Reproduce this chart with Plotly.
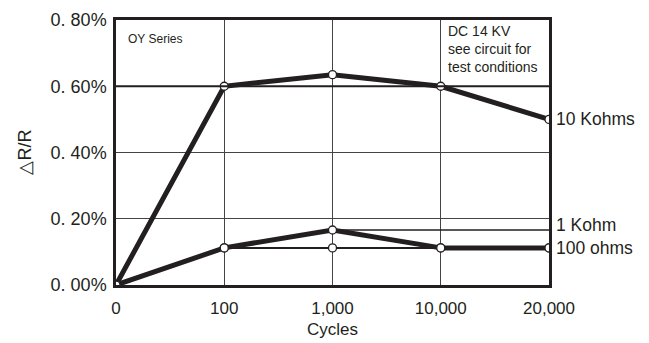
import plotly.graph_objects as go

cycles = ["0", "100", "1,000", "10,000", "20,000"]
r_10k = [0.0, 0.60, 0.635, 0.60, 0.50]
r_1k = [0.0, 0.112, 0.166, 0.112, 0.112]
r_100 = [0.0, 0.112, 0.112, 0.112, 0.112]
ytick_vals = [0.0, 0.2, 0.4, 0.6, 0.8]
ytick_text = ["0. 00%", "0. 20%", "0. 40%", "0. 60%", "0. 80%"]
series_labels = ["10 Kohms", "1 Kohm", "100 ohms"]

INK = "#231f20"
FONT = "Liberation Sans, Arial, sans-serif"

fig = go.Figure()
marker = dict(size=8, color="white", line=dict(color=INK, width=1.3))

# 1 Kohm leader line
fig.add_trace(go.Scatter(x=cycles[2:], y=[r_1k[2]] * 3, mode="lines",
                         line=dict(color=INK, width=1.5), hoverinfo="skip", showlegend=False))
fig.add_trace(go.Scatter(x=cycles, y=r_100, mode="lines", name=series_labels[2],
                         line=dict(color=INK, width=2), showlegend=False))
fig.add_trace(go.Scatter(x=cycles[:4], y=r_1k[:4], mode="lines", name=series_labels[1],
                         line=dict(color=INK, width=5), showlegend=False))
fig.add_trace(go.Scatter(x=cycles[3:], y=r_100[3:], mode="lines",
                         line=dict(color=INK, width=5), showlegend=False, hoverinfo="skip"))
fig.add_trace(go.Scatter(x=cycles, y=r_10k, mode="lines", name=series_labels[0],
                         line=dict(color=INK, width=5), showlegend=False))
# markers
fig.add_trace(go.Scatter(x=cycles, y=r_100, mode="markers", marker=marker, showlegend=False))
fig.add_trace(go.Scatter(x=cycles, y=r_1k, mode="markers", marker=marker, showlegend=False))
fig.add_trace(go.Scatter(x=cycles, y=r_10k, mode="markers", marker=marker, showlegend=False))

# series end labels
for lab, yv, dy in [(series_labels[0], r_10k[-1], 0), (series_labels[1], r_1k[2], 5), (series_labels[2], r_100[-1], 0)]:
    fig.add_annotation(x=cycles[-1], y=yv, text=lab, showarrow=False, xanchor="left",
                       xshift=5, yshift=dy, font=dict(family=FONT, size=17.5, color=INK))

fig.add_annotation(xref="paper", yref="paper", x=0.022, y=0.93, text="OY Series", showarrow=False,
                   xanchor="left", yanchor="middle", font=dict(family=FONT, size=12, color=INK))
fig.add_annotation(xref="paper", yref="paper", x=0.762, y=0.995,
                   text="DC 14 KV<br>see circuit for<br>test conditions", showarrow=False,
                   xanchor="left", yanchor="top", align="left",
                   font=dict(family=FONT, size=14, color=INK))
fig.add_annotation(xref="paper", yref="paper", x=-(116 - 24) / 433, y=0.5, text="△R/R",
                   showarrow=False, textangle=-90, xanchor="center", yanchor="middle",
                   font=dict(family=FONT, size=18, color=INK))

fig.add_shape(type="line", xref="paper", x0=0, x1=1, y0=0.6, y1=0.6, line=dict(color=INK, width=2))

fig.update_xaxes(type="category", categoryorder="array", categoryarray=cycles, range=[0, 4],
                 showgrid=True, gridcolor="#444", gridwidth=1, showline=True, linecolor=INK,
                 linewidth=2.5, mirror=True, ticks="", ticklabelstandoff=6, automargin=False,
                 tickfont=dict(family=FONT, size=17, color=INK),
                 title=dict(text="Cycles", font=dict(family=FONT, size=17, color=INK), standoff=6),
                 zeroline=False)
fig.update_yaxes(range=[0, 0.8], tickvals=ytick_vals, ticktext=ytick_text, showgrid=True,
                 gridcolor="#444", gridwidth=1, showline=True, linecolor=INK, linewidth=2.5,
                 mirror=True, ticks="", ticklabelstandoff=3, automargin=False,
                 tickfont=dict(family=FONT, size=18, color=INK), zeroline=False)

fig.update_layout(width=641, height=335, margin=dict(l=108, r=100, t=12, b=58, autoexpand=False),
                  plot_bgcolor="white", paper_bgcolor="white", showlegend=False)

fig.write_html("out.html")
